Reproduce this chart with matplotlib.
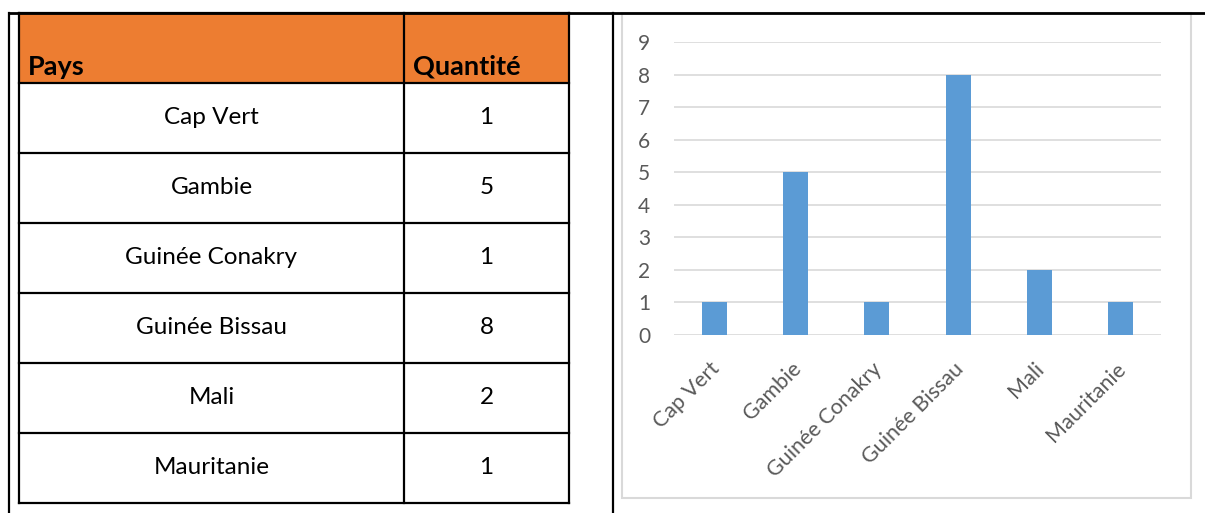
import matplotlib.pyplot as plt
import matplotlib.transforms as mtransforms
from matplotlib.lines import Line2D
from matplotlib.patches import Rectangle

#---Data---
pays = ["Cap Vert", "Gambie", "Guinée Conakry", "Guinée Bissau", "Mali", "Mauritanie"]
quantite = [1, 5, 1, 8, 2, 1]
y_ticks = list(range(0, 10))

plt.rcParams['font.family'] = ['Lato', 'DejaVu Sans']

W, H = 1205, 513
fig = plt.figure(figsize=(W / 100, H / 100), dpi=100)


#---pixel helpers (y measured from top)---
def fx(px):
    return px / W


def fy(py):
    return 1 - py / H


def line(x0, y0, x1, y1, color='black', lw=1.6):
    fig.add_artist(Line2D([fx(x0), fx(x1)], [fy(y0), fy(y1)], color=color,
                          lw=lw, transform=fig.transFigure, solid_capstyle='projecting'))


#---outer frame---
line(9, 12.5, W, 12.5, lw=2)
line(9, 12.5, 9, H)
line(613, 12.5, 613, H)

#---table---
tx0, tx1, tcol = 19, 569, 404
top, head_bot, row_h = 13, 83, 70
fig.add_artist(Rectangle((fx(tx0), fy(head_bot)), fx(tx1 - tx0), (head_bot - top) / H,
                         transform=fig.transFigure, facecolor='#ED7D31', edgecolor='none'))
fig.text(fx(28), fy(75), "Pays", fontsize=19.5, fontweight='bold', ha='left', va='baseline')
fig.text(fx(413), fy(75), "Quantité", fontsize=19.5, fontweight='bold', ha='left', va='baseline')

n = len(pays)
bottom = head_bot + n * row_h
for i in range(n + 1):
    y = head_bot + i * row_h
    line(tx0, y, tx1, y)
line(tx0, top, tx1, top)
line(tx0, top, tx0, bottom)
line(tx1, top, tx1, bottom)
line(tcol, top, tcol, bottom)

for i, (p, q) in enumerate(zip(pays, quantite)):
    yc = head_bot + (i + 0.5) * row_h
    fig.text(fx((tx0 + tcol) / 2), fy(yc), p, fontsize=17.5, ha='center', va='center')
    fig.text(fx((tcol + tx1) / 2), fy(yc), str(q), fontsize=17.5, ha='center', va='center')

#---chart frame---
fig.add_artist(Rectangle((fx(622), fy(498)), fx(1191 - 622), (498 - 13) / H,
                         transform=fig.transFigure, facecolor='none', edgecolor='#D9D9D9', lw=1.5))

#---chart---
ax = fig.add_axes([fx(674), fy(335), fx(1161 - 674), (335 - 42) / H])
x = range(len(pays))
ax.bar(x, quantite, width=0.31, color='#5B9BD5', zorder=3)
ax.set_xlim(-0.5, len(pays) - 0.5)
ax.set_ylim(0, 9)
ax.set_yticks(y_ticks)
for t in y_ticks:
    ax.axhline(t, color='#D9D9D9', lw=1.2, zorder=1)
for s in ax.spines.values():
    s.set_visible(False)
ax.set_xticks(list(x))
ax.set_xticklabels(pays, rotation=45, ha='right', rotation_mode='anchor', fontsize=15.5, color='#595959')
ax.tick_params(axis='x', length=0, pad=17)
ax.tick_params(axis='y', length=0, pad=17, labelsize=15, labelcolor='#595959')

# nudge the rotated labels a little to the left
shift = mtransforms.ScaledTranslation(-5 / 100, 0, fig.dpi_scale_trans)
for lab in ax.get_xticklabels():
    lab.set_transform(lab.get_transform() + shift)

plt.savefig("out.png", dpi=100)
